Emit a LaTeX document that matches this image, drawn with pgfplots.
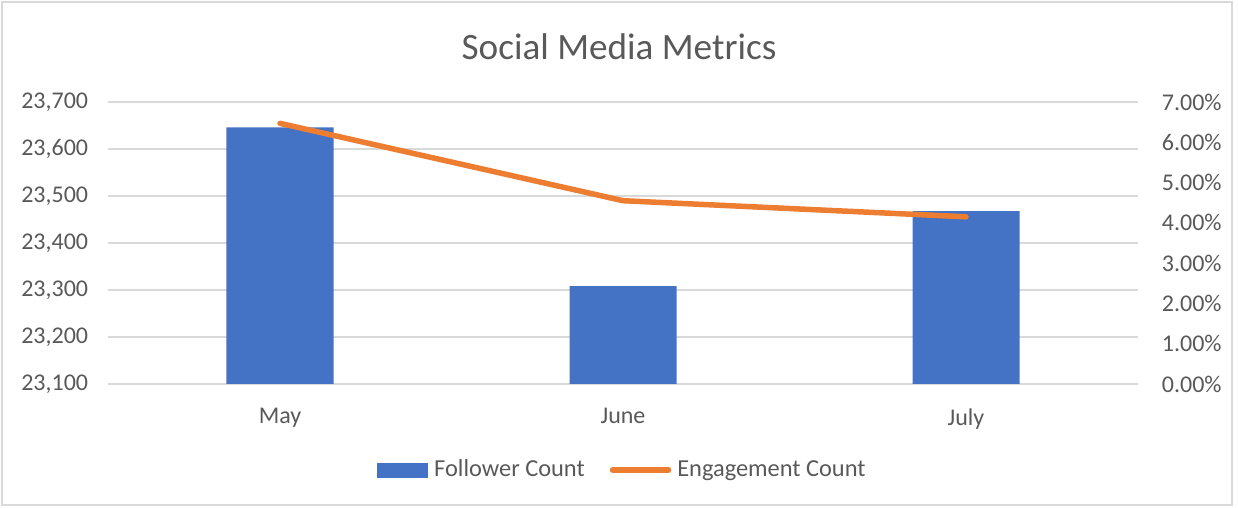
\documentclass[border=0pt]{standalone}
\usepackage{pgfplots}
\pgfplotsset{compat=1.18}
\usepackage{fontspec}
\setmainfont{Carlito}
\definecolor{barblue}{HTML}{4472C4}
\definecolor{lineorange}{HTML}{ED7D31}
\definecolor{txtgray}{HTML}{595959}
\definecolor{gridgray}{HTML}{D9D9D9}
\begin{document}
\begin{tikzpicture}
\path[use as bounding box] (0pt,0pt) rectangle (619pt,254pt);
\draw[gridgray, line width=0.75pt] (1pt,1.5pt) rectangle (616pt,253pt);
\node[font=\fontsize{18.6}{22}\selectfont, text=txtgray] at (309.5pt,230.5pt) {Social Media Metrics};
\pgfplotsset{
  common/.style={
    at={(54.25pt,62pt)}, anchor=south west,
    scale only axis, width=514.5pt, height=141pt,
    xmin=-0.5, xmax=2.5,
    axis line style={draw=none},
    major tick length=0pt,
    scaled ticks=false,
    tick label style={font=\fontsize{12}{14}\selectfont, text=txtgray},
  }
}
\begin{axis}[common,
  ymin=23100, ymax=23700,
  ytick={23100,23200,23300,23400,23500,23600,23700},
  yticklabels={{23,100},{23,200},{23,300},{23,400},{23,500},{23,600},{23,700}},
  yticklabel style={anchor=east, inner sep=0pt, xshift=-10pt},
  xtick={0,1,2}, xticklabels={May,June,July},
  xticklabel style={anchor=north, inner sep=0pt, yshift=-12pt},
  ymajorgrids, grid style={gridgray, line width=0.75pt},
]
\addplot[ybar, fill=barblue, draw=none, bar width=53.5pt] coordinates {(0,23646) (1,23308) (2,23468)};
\end{axis}
\begin{axis}[common,
  ymin=0, ymax=0.07,
  axis x line=none, axis y line*=right,
  ytick={0,0.01,0.02,0.03,0.04,0.05,0.06,0.07},
  yticklabels={0.00\%,1.00\%,2.00\%,3.00\%,4.00\%,5.00\%,6.00\%,7.00\%},
  yticklabel style={anchor=west, inner sep=0pt, xshift=12pt},
  legend style={draw=none, fill=none, at={(0.5,-0.305)}, anchor=center,
    legend columns=2, font=\fontsize{12.2}{14}\selectfont, text=txtgray,
    /tikz/every odd column/.append style={column sep=1.5pt},
    /tikz/every even column/.append style={column sep=11pt},
    nodes={inner sep=1.5pt}},
  legend cell align=left,
]
\addlegendimage{legend image code/.code={\fill[barblue] (0pt,-3.5pt) rectangle (25pt,3.5pt);}}
\addlegendentry{Follower Count}
\addplot[lineorange, line width=2.75pt, line cap=round, line join=round,
  legend image code/.code={\draw[lineorange, line width=2.75pt, line cap=round] (0pt,0pt) -- (28pt,0pt);}]
  coordinates {(0,0.0647) (1,0.0455) (2,0.0415)};
\addlegendentry{Engagement Count}
\end{axis}
\end{tikzpicture}
\end{document}
